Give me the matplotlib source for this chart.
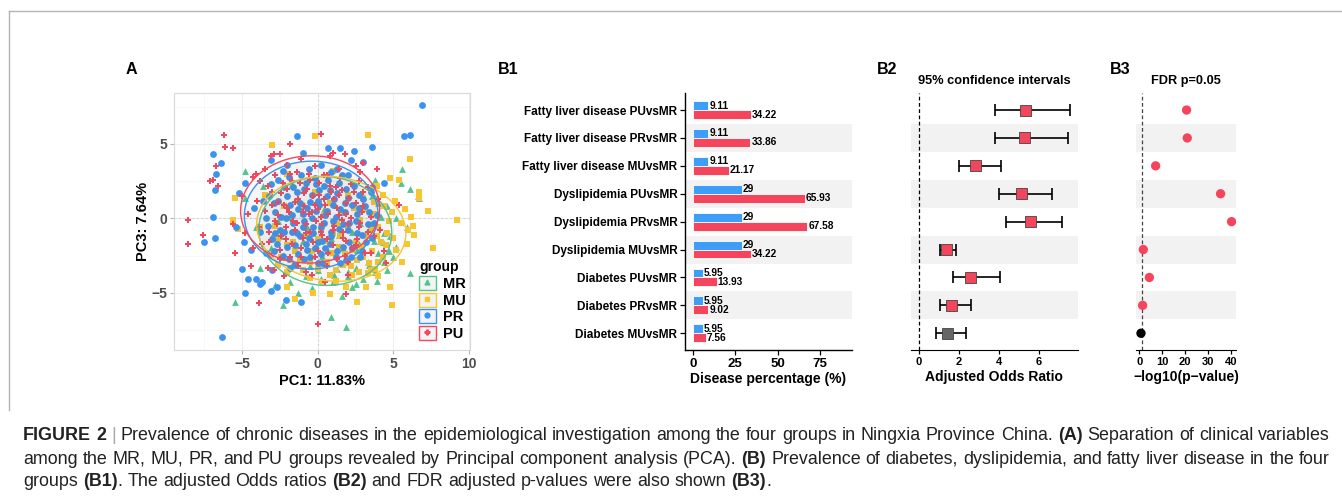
import numpy as np
import matplotlib
matplotlib.use('Agg')
import matplotlib.pyplot as plt
from matplotlib.patches import Ellipse, Patch
from matplotlib.lines import Line2D
from matplotlib.legend_handler import HandlerTuple

plt.rcParams['font.family'] = ['Liberation Sans', 'DejaVu Sans']

# ---------------- data: PCA (A) ----------------
groups = ['MR', 'MU', 'PR', 'PU']
group_colors = {'MR': '#52C48E', 'MU': '#F7C631', 'PR': '#3A93F2', 'PU': '#F2475E'}
group_markers = {'MR': '^', 'MU': 's', 'PR': 'o', 'PU': 'P'}

mr_pc1 = [6.1, 5.6, 5.5, 6.1, 6.6, 6.7, 1.9, 0.9, -5.5, -2.3, -1.3, -0.4, 2.5, 3.0, 4.6, -4.8, -1.7, -3.8,
          -3.1, 5.0, 4.3, 3.4, 1.0, -1.8, -2.8, -4.1, 4.6, 5.2, 3.8, -3.6, -0.8, 2.0, -4.8, 1.6, 4.8, 5.9,
          -2.5, -1.9, -1.3, -0.7, -0.1, 0.5, 1.1, 1.7, 2.3, 2.9, 3.5, 4.0, 3.1, 2.5, 1.3, 0.3, -0.5, -1.6,
          -2.3, 3.7, 2.1, 0.9, 4.2, 1.9, -0.9, 2.7, 3.3, 4.4]
mr_pc3 = [-3.7, 3.3, 2.4, 2.0, 1.5, 1.4, -7.3, -6.6, -5.6, -5.8, -5.0, -4.7, -4.4, -4.1, -3.5, 3.2, 2.3, -3.3,
          -2.0, -2.6, -1.6, -3.1, -4.3, -4.3, -4.5, -0.6, 0.8, 0.0, 2.6, 2.2, -3.9, -3.6, 1.4, -5.2, -1.2, -0.6,
          -1.2, 0.1, -2.3, -0.6, -1.8, -3.0, -0.2, -2.0, -0.9, -2.5, -0.4, -2.3, 0.7, -3.3, -3.4, -2.5, -3.2, -3.0,
          -2.6, -1.5, 1.6, -1.3, 0.1, -2.8, 0.9, -1.7, -2.9, -2.9]
mr_core = [(0.7, -2.2), (1.4, -1.1), (2.0, -3.9), (2.6, -2.1), (3.2, -1.0), (3.8, -3.6), (4.4, -1.0),
           (1.1, -3.8), (0.0, -3.5), (-1.0, -1.5), (-2.0, -3.4), (-3.0, -1.2), (1.7, 0.4), (2.8, -0.3),
           (3.6, 1.5), (4.7, -2.2), (0.2, -4.1), (-0.6, -2.5), (2.3, -4.6), (3.9, -4.2), (-2.6, -0.2),
           (5.2, -1.9), (4.0, 1.0), (0.4, 0.6)]

mu_pc1 = [9.2, 7.6, 7.3, 6.7, 6.7, 6.1, 3.3, -0.2, -3.0, -5.5, -5.3, -2.0, -1.5, -0.3, 0.8, 2.6, 4.8, 4.9,
          6.3, 6.0, 6.2, 5.8, 5.2, 4.8, 5.4, 5.5, 5.1, 4.6, 4.3, 3.5, 2.3, 1.2, -0.5, -1.8, -3.2, -3.8, -3.5,
          -2.0, 1.0, 3.9, 5.9, 5.6, 6.4, -5.6, -2.6, 1.9, 4.0, 3.2,
          -2.8, -2.2, -1.6, -1.0, -0.4, 0.2, 0.8, 1.4, 2.0, 2.6, 3.2, 3.8, 4.2, 3.0, 2.2, 1.6, 0.6, -0.2,
          -1.2, -2.0, 3.6, 2.8, 1.0, 4.4, 0.0, -0.8, 1.8, 2.4, 3.4, 4.0, -1.4, 0.4, 2.9, 1.2, 3.7, -2.4]
mu_pc3 = [-0.1, -2.0, 0.5, 1.8, 1.4, 4.0, 5.6, 5.5, 4.9, 1.4, -0.7, -4.6, -5.4, -5.0, -5.1, -5.6, -4.6, -5.8,
          -0.5, -0.8, 0.1, 0.6, -2.1, 2.7, 2.6, -0.3, 1.2, -1.0, -2.6, -3.5, -3.8, -4.2, -4.0, -3.4, -2.4, -0.6, 1.6,
          3.0, 3.2, 2.2, -1.7, -2.9, -1.1, -0.1, -3.1, -4.6, -3.9, -4.6,
          -0.5, 0.8, -1.6, 0.3, -2.2, -0.8, 1.0, -1.9, -0.5, -2.8, -1.2, 0.3, -1.6, 1.4, -3.2, 0.4, -2.9, 1.8,
          -2.8, -1.8, -2.2, -0.1, -1.0, 0.8, -3.4, -1.2, -2.4, 0.7, -3.0, -0.6, 1.2, 0.2, -1.9, -3.5, 1.1, -2.6]
mu_core = [(0.5, -1.5), (1.0, -2.3), (1.5, -1.2), (2.0, -3.0), (2.5, -1.6), (3.0, -2.6), (3.5, -0.8),
           (4.0, -2.9), (4.5, -1.8), (3.3, -3.7), (2.7, -3.6), (1.7, -3.1), (0.8, -3.8), (-0.5, -2.9),
           (-1.5, -2.2), (-2.6, -1.4), (3.9, -1.2), (4.7, -0.2), (2.3, -2.1), (1.3, -0.4), (0.0, -1.4),
           (-1.0, -3.5), (4.3, 1.6), (3.1, 0.6), (2.0, 1.6), (5.0, -1.3), (0.3, -4.3), (-2.0, -3.6),
           (3.8, -3.4), (4.9, 0.4)]

pr_pc1 = [6.9, 5.7, 6.1, -1.4, -6.3, -6.9, -6.4, -6.7, -6.8, -6.9, -6.8, -7.5, -4.6, -4.8, -3.8, -3.7, -3.1,
          -1.1, -2.1, 3.6, 2.4, 1.5, 0.7, 4.4, -5.4, -4.9, -5.2, -4.1, -5.0, -4.4, -3.0, -2.7, -1.8, -2.0, -3.1,
          -4.8, -4.2, -1.0, 0.2, 1.3, 2.2, 3.0, 3.6, 3.9, 3.6, 2.8, 1.5, 0.0, -0.9,
          -3.2, -2.8, -2.5, -2.2, -2.0, -1.8, -1.6, -1.4, -1.2, -1.0, -0.8, -0.7, -0.5, -0.3, -0.1, 0.1, 0.3,
          0.5, 0.7, 0.9, 1.1, 1.3, 1.5, 1.7, 1.9, 2.1, 2.3, 2.5, 2.7, 2.9, -3.0, -2.6, -2.3, -1.9, -1.5, -1.1,
          -0.6, -0.2, 0.2, 0.6, 1.0, 1.4, 1.8, 2.2, 2.6, 3.1, -3.4, -2.9, -0.4, 0.4, -1.3, 1.2, -2.1, 0.0,
          -0.9, 2.0, -1.7, 0.8, -0.2, 3.3]
pr_pc3 = [7.6, 5.5, 5.6, 5.5, -8.0, 4.3, 3.7, 3.0, 1.9, 0.1, -1.3, -1.6, -4.1, -5.0, -4.4, -4.3, -4.9,
          -5.6, -5.5, 4.8, 4.5, 4.7, 4.7, 2.4, -0.6, -1.6, 1.7, -4.1, -3.4, -2.1, -3.5, -4.6, -3.3, 3.6, 3.9,
          2.4, 0.7, 4.4, 3.6, 3.3, 3.9, 3.8, 2.1, 0.2, -1.3, -2.6, -3.0, -3.0, -2.7,
          1.5, 0.4, -0.8, 2.1, -1.9, 0.9, -0.3, 1.8, -1.2, 0.3, 2.4, -2.1, 1.1, -0.6, 0.5, 1.9, -1.5,
          0.2, 2.6, -0.9, 1.3, -2.2, 0.6, -0.4, 2.0, -1.6, 0.9, -0.2, 1.6, -1.1, -1.4, 1.2, -2.5, 2.8, -1.8, 2.9,
          -1.3, 2.7, -2.4, 1.5, -0.2, 2.4, 1.0, -2.6, 0.3, 0.8, 0.0, -2.2, 0.0, -0.3, 0.6, 0.1, 0.0, 1.2,
          -0.2, -0.8, -0.9, -1.7, -2.0, -0.4]
pr_core = [(-3.3, -0.5), (-3.1, 2.3), (-2.9, 1.0), (-2.7, -1.7), (-2.6, 2.6), (-2.4, 0.1), (-2.2, -0.9),
           (-2.0, 1.5), (-1.9, -2.7), (-1.7, 0.2), (-1.6, 2.1), (-1.4, -1.0), (-1.3, -2.4), (-1.2, 1.0),
           (-1.0, -0.6), (-0.9, 2.0), (-0.8, -1.7), (-0.7, 0.7), (-0.5, -2.6), (-0.4, 1.6), (-0.3, -1.0),
           (-0.1, 2.3), (0.0, -1.6), (0.1, 0.9), (0.2, -0.6), (0.4, 2.2), (0.5, -2.0), (0.6, 0.5), (0.8, 1.9),
           (0.9, -1.2), (1.0, 0.9), (1.2, -2.6), (1.3, 1.7), (1.4, -0.7), (1.6, 2.9), (1.7, -1.9), (1.8, 0.4),
           (2.0, 1.4), (2.1, -0.3), (2.3, -2.0), (2.4, 2.2), (2.6, -1.0), (2.7, 0.7), (2.9, -2.2), (3.0, 1.3),
           (3.2, -1.6), (3.4, 0.4), (3.5, 1.8), (-3.6, 1.2), (-3.8, -0.9), (-2.3, 3.2), (-0.6, 3.3), (0.9, 3.1),
           (2.0, 2.9), (-1.5, -3.1), (0.3, -3.0), (1.9, -2.8), (-3.4, -2.3), (3.7, -0.3), (-2.8, -1.0)]

pu_pc1 = [-8.6, -8.6, -7.6, -6.2, -6.1, -5.6, -7.1, -6.9, -6.7, -6.6, -5.5, -5.6, -3.9, 0.2, 0.0, 0.5, 2.0,
          -4.4, 1.9, 4.4, 4.5, 5.4, 3.9, 3.0, 1.0, -2.9, -3.5, -4.3, -5.0, -4.8, -4.3, -3.3, -2.2, -0.8, -1.8,
          -4.1, -2.5, -1.1, 0.8, 1.8, 2.5, 4.0, 4.1, 3.5, -0.4, -2.9, -4.6, -3.7, -3.1,
          -3.3, -3.0, -2.7, -2.4, -2.1, -1.9, -1.7, -1.5, -1.3, -1.1, -0.9, -0.7, -0.5, -0.3, -0.1, 0.1, 0.3,
          0.5, 0.7, 0.9, 1.1, 1.3, 1.5, 1.7, 1.9, 2.1, 2.3, 2.5, 2.7, 2.9, -3.2, -2.8, -2.5, -2.2, -1.8, -1.4,
          -1.0, -0.6, -0.2, 0.2, 0.6, 1.0, 1.4, 1.8, 2.2, 2.6, 3.0, 3.3, -2.0, -0.8, 0.4, 1.6, -1.6, 0.0,
          -2.6, 2.0, -0.4, 1.2]
pu_pc3 = [-0.1, -1.7, -1.1, 5.6, 4.8, 4.7, 2.5, 2.6, 3.5, 2.2, -2.3, -0.4, -5.7, 5.7, -7.1, -4.3, -3.8,
          -3.2, -5.1, -2.2, -3.0, 0.9, 3.3, 3.7, 4.4, 4.3, 3.3, 2.8, 1.5, -1.0, -2.0, -3.3, -3.9, -3.6, 5.0,
          3.0, 4.3, 4.0, 4.2, 4.3, 3.5, 1.3, -0.8, -2.3, -3.8, -3.5, 0.3, -1.7, 4.2,
          2.2, 0.9, -0.4, 1.7, -1.4, 0.4, 2.5, -0.8, 1.3, -2.0, 0.8, 2.0, -0.9, 1.5, -0.2, 2.4, -1.1,
          0.9, -2.3, 1.8, -0.5, 0.7, 2.7, -1.3, 0.3, 1.4, -2.0, 1.0, -0.6, 0.4, -0.9, 2.9, -2.1, 0.9, -2.6, 3.1,
          -1.3, 3.0, -2.6, 0.1, 2.9, -1.8, 1.6, -2.5, 2.3, -1.4, 1.8, -0.9, 2.0, -0.4, 1.3, -0.1, -0.2, 0.6,
          0.2, -0.4, 0.4, 2.1]
pu_core = [(-3.5, 0.5), (-3.2, -1.6), (-3.0, 1.8), (-2.8, -0.2), (-2.6, 1.1), (-2.5, -2.7), (-2.3, 2.4),
           (-2.1, -0.6), (-2.0, 0.7), (-1.8, 3.0), (-1.7, -1.7), (-1.5, 1.1), (-1.4, -0.3), (-1.2, 2.4),
           (-1.1, -2.6), (-0.9, 1.7), (-0.8, -1.0), (-0.6, 0.3), (-0.5, 2.6), (-0.3, -1.6), (-0.2, 0.9),
           (0.0, -2.2), (0.1, 1.6), (0.3, -0.4), (0.4, 2.9), (0.6, -1.4), (0.7, 0.3), (0.8, 2.2), (1.0, -0.8),
           (1.1, 1.3), (1.3, -2.7), (1.4, 0.2), (1.6, 1.9), (1.7, -0.9), (1.9, 1.0), (2.0, -2.9), (2.2, 0.0),
           (2.4, 1.8), (2.5, -1.8), (2.7, 2.5), (2.8, -0.3), (3.0, 0.8), (3.1, -2.3), (3.3, 2.1), (3.5, 0.1),
           (-3.8, 2.5), (-3.9, -0.6), (-4.0, 1.2), (-2.0, 3.6), (-0.2, 3.5), (1.4, 3.3), (2.8, 3.1),
           (-3.1, -2.5), (-1.3, -3.2), (0.6, -3.2), (1.9, -1.5), (-1.0, 0.4), (0.2, -0.9), (3.7, -1.2),
           (-2.4, -1.2)]

pca_x = {'MR': mr_pc1 + [p[0] for p in mr_core], 'MU': mu_pc1 + [p[0] for p in mu_core],
         'PR': pr_pc1 + [p[0] for p in pr_core], 'PU': pu_pc1 + [p[0] for p in pu_core]}
pca_y = {'MR': mr_pc3 + [p[1] for p in mr_core], 'MU': mu_pc3 + [p[1] for p in mu_core],
         'PR': pr_pc3 + [p[1] for p in pr_core], 'PU': pu_pc3 + [p[1] for p in pu_core]}

# 95% ellipse summaries: centre, half-widths, tilt
ell_cx = {'MR': 0.5, 'MU': 0.9, 'PR': -0.43, 'PU': -0.5}
ell_cy = {'MR': -0.85, 'MU': -0.7, 'PR': 0.22, 'PU': 0.6}
ell_rx = {'MR': 4.4, 'MU': 4.95, 'PR': 4.42, 'PU': 4.6}
ell_ry = {'MR': 3.65, 'MU': 3.5, 'PR': 3.62, 'PU': 3.6}
ell_ang = {'MR': -4, 'MU': -7, 'PR': 2, 'PU': 3}

# ---------------- data: B1 / B2 / B3 ----------------
comparisons = ['Fatty liver disease PUvsMR', 'Fatty liver disease PRvsMR', 'Fatty liver disease MUvsMR',
               'Dyslipidemia PUvsMR', 'Dyslipidemia PRvsMR', 'Dyslipidemia MUvsMR',
               'Diabetes PUvsMR', 'Diabetes PRvsMR', 'Diabetes MUvsMR']
pct_mr = [9.11, 9.11, 9.11, 29, 29, 29, 5.95, 5.95, 5.95]
pct_other = [34.22, 33.86, 21.17, 65.93, 67.58, 34.22, 13.93, 9.02, 7.56]

odds = [5.33, 5.27, 2.83, 5.13, 5.58, 1.38, 2.58, 1.65, 1.43]
ci_low = [3.83, 3.83, 2.0, 4.0, 4.37, 1.08, 1.7, 1.08, 0.88]
ci_high = [7.57, 7.48, 4.13, 6.65, 7.17, 1.85, 4.05, 2.62, 2.37]

neglog_p = [20.7, 21.0, 7.15, 35.6, 40.4, 1.75, 4.4, 1.45, 0.73]
fdr_cut = -np.log10(0.05)

W, H = 1342, 500


def box(x0, y0, x1, y1):
    return [x0 / W, 1 - y1 / H, (x1 - x0) / W, (y1 - y0) / H]


fig = plt.figure(figsize=(W / 100, H / 100), dpi=100)
fig.patch.set_facecolor('white')

# ---------------- A: PCA ----------------
ax = fig.add_axes(box(174, 93.3, 470, 350))
ax.set_xlim(-9.5, 10.07)
ax.set_ylim(-8.84, 8.4)
ax.set_xticks([-5, 0, 5, 10])
ax.set_yticks([-5, 0, 5])
ax.set_xticks([-7.5, -2.5, 2.5, 7.5], minor=True)
ax.set_yticks([-7.5, -2.5, 2.5, 7.5], minor=True)
ax.grid(True, which='major', color='#EDEDED', lw=0.6)
ax.grid(True, which='minor', color='#F6F6F6', lw=0.5)
ax.set_axisbelow(True)
for s in ax.spines.values():
    s.set_color('#D9D9D9')
    s.set_linewidth(0.8)
ax.tick_params(which='major', length=3, color='#B3B3B3', labelsize=10, labelcolor='#4D4D4D', pad=2)
ax.tick_params(which='minor', length=0)
for lab in ax.get_xticklabels() + ax.get_yticklabels():
    lab.set_fontweight('bold')
ax.axvline(0, color='#D5D5D5', lw=0.8, ls=(0, (2, 2)), zorder=1)
ax.axhline(0, color='#D5D5D5', lw=0.8, ls=(0, (2, 2)), zorder=1)

msize = {'MR': 24, 'MU': 19, 'PR': 24, 'PU': 22}
for g in groups:
    ax.scatter(pca_x[g], pca_y[g], s=msize[g], marker=group_markers[g], color=group_colors[g],
               linewidths=0, zorder=3)
for g in groups:
    ax.add_patch(Ellipse((ell_cx[g], ell_cy[g]), 2 * ell_rx[g], 2 * ell_ry[g], angle=ell_ang[g],
                         facecolor=(0.5, 0.5, 0.5, 0.04), edgecolor=group_colors[g], lw=1.0, zorder=4))
ax.set_xlabel('PC1: 11.83%', fontsize=10.5, fontweight='bold', labelpad=2)
ax.set_ylabel('PC3: 7.64%', fontsize=10.5, fontweight='bold', labelpad=1)

handles = []
for g in groups:
    handles.append((Patch(facecolor='#F3F3F3', edgecolor=group_colors[g], lw=1.0),
                    Line2D([], [], ls='none', marker=group_markers[g], color=group_colors[g], markersize=3.5)))
leg = ax.legend(handles, groups, title='group', loc='lower right', bbox_to_anchor=(0.985, 0.035),
                frameon=False, handler_map={tuple: HandlerTuple(ndivide=1, pad=0)},
                handlelength=1.1, handleheight=1.1, handletextpad=0.5, labelspacing=0.12,
                borderaxespad=0.0, borderpad=0.0, alignment='left',
                prop={'weight': 'bold', 'size': 10.5}, title_fontproperties={'weight': 'bold', 'size': 10})
leg.set_zorder(6)

# ---------------- B1: bars ----------------
n = len(comparisons)
rows = np.arange(n, 0, -1)
blue, red = '#3D9EF7', '#F5455C'

ax1 = fig.add_axes(box(685, 93.3, 852, 350))
for i in range(n):
    if i % 2 == 1:
        ax1.axhspan(rows[i] - 0.5, rows[i] + 0.5, color='#F2F2F2', lw=0, zorder=0)
ax1.barh(rows + 0.16, pct_mr, height=0.32, color=blue, edgecolor='white', lw=0.6, zorder=2)
ax1.barh(rows - 0.16, pct_other, height=0.32, color=red, edgecolor='white', lw=0.6, zorder=2)
for i in range(n):
    ax1.text(pct_mr[i] + 0.6, rows[i] + 0.16, f'{pct_mr[i]:g}', va='center', ha='left',
             fontsize=7.3, fontweight='bold', zorder=3)
    ax1.text(pct_other[i] + 0.6, rows[i] - 0.16, f'{pct_other[i]:g}', va='center', ha='left',
             fontsize=7.3, fontweight='bold', zorder=3)
ax1.set_xlim(-4.7, 93.9)
ax1.set_ylim(0.4, 9.6)
ax1.set_yticks(rows)
ax1.set_yticklabels(comparisons, fontsize=8.5, fontweight='bold')
ax1.set_xticks([0, 25, 50, 75])
ax1.tick_params(axis='x', labelsize=9.5, length=3.5, width=0.9, pad=2)
ax1.tick_params(axis='y', length=3.5, width=0.9, pad=2)
for lab in ax1.get_xticklabels():
    lab.set_fontweight('bold')
ax1.spines['top'].set_visible(False)
ax1.spines['right'].set_visible(False)
ax1.spines['left'].set_linewidth(1.0)
ax1.spines['bottom'].set_linewidth(1.0)
ax1.set_xlabel('Disease percentage (%)', fontsize=10, fontweight='bold', labelpad=2)

# ---------------- B2: odds ratios ----------------
ax2 = fig.add_axes(box(911, 93.3, 1077.7, 350))
for i in range(n):
    if i % 2 == 1:
        ax2.axhspan(rows[i] - 0.5, rows[i] + 0.5, color='#F2F2F2', lw=0, zorder=0)
ax2.axvline(0, color='black', lw=0.9, ls=(0, (3, 2)), zorder=1)
odds_a = np.array(odds)
xerr = [odds_a - np.array(ci_low), np.array(ci_high) - odds_a]
ax2.errorbar(odds, rows, xerr=xerr, fmt='none', ecolor='black', elinewidth=1.2, capsize=4, capthick=1.2, zorder=2)
or_cols = [red if lo > 1 else '#666666' for lo in ci_low]
ax2.scatter(odds, rows, s=62, marker='s', c=or_cols, edgecolors='#444444', linewidths=0.6, zorder=3)
ax2.set_xlim(-0.385, 7.95)
ax2.set_ylim(0.4, 9.6)
ax2.set_xticks([0, 2, 4, 6])
ax2.set_yticks([])
ax2.tick_params(axis='x', labelsize=8, length=3, width=0.9, pad=2)
for lab in ax2.get_xticklabels():
    lab.set_fontweight('bold')
for s in ['top', 'right', 'left']:
    ax2.spines[s].set_visible(False)
ax2.set_xlabel('Adjusted Odds Ratio', fontsize=10, fontweight='bold', labelpad=2)

# ---------------- B3: FDR ----------------
ax3 = fig.add_axes(box(1136, 93.3, 1236, 350))
for i in range(n):
    if i % 2 == 1:
        ax3.axhspan(rows[i] - 0.5, rows[i] + 0.5, color='#F2F2F2', lw=0, zorder=0)
ax3.axvline(fdr_cut, color='#444444', lw=0.9, ls=(0, (3, 2)), zorder=1)
p_cols = [red if v > fdr_cut else 'black' for v in neglog_p]
ax3.scatter(neglog_p, rows, s=45, c=p_cols, linewidths=0, zorder=3)
ax3.set_xlim(-1.45, 42.35)
ax3.set_ylim(0.4, 9.6)
ax3.set_xticks([0, 10, 20, 30, 40])
ax3.set_yticks([])
ax3.tick_params(axis='x', labelsize=8, length=3, width=0.9, pad=2)
for lab in ax3.get_xticklabels():
    lab.set_fontweight('bold')
for s in ['top', 'right', 'left']:
    ax3.spines[s].set_visible(False)
ax3.set_xlabel('\u2212log10(p\u2212value)', fontsize=10, fontweight='bold', labelpad=2)

# ---------------- panel letters and titles ----------------
for lbl, px in [('A', 126), ('B1', 498), ('B2', 877), ('B3', 1110)]:
    fig.text(px / W, 1 - 74 / H, lbl, fontsize=11.5, fontweight='bold', ha='left', va='baseline')
fig.text(994 / W, 1 - 81 / H, '95% confidence intervals', fontsize=9.2, fontweight='bold', ha='center', va='center')
fig.text(1186 / W, 1 - 81 / H, 'FDR p=0.05', fontsize=9.2, fontweight='bold', ha='center', va='center')

# ---------------- frame ----------------
fig.add_artist(Line2D([9 / W, 1], [1 - 11 / H, 1 - 11 / H], transform=fig.transFigure, color='#B3B3B3', lw=1.0))
fig.add_artist(Line2D([9 / W, 9 / W], [1 - 11 / H, 1 - 410 / H], transform=fig.transFigure, color='#B3B3B3', lw=1.0))

# ---------------- caption ----------------
caption_lines = [
    ('**FIGURE 2** | Prevalence of chronic diseases in the epidemiological investigation among the four groups '
     'in Ningxia Province China. **(A)** Separation of clinical variables', True),
    ('among the MR, MU, PR, and PU groups revealed by Principal component analysis (PCA). **(B)** Prevalence of '
     'diabetes, dyslipidemia, and fatty liver disease in the four', True),
    ('groups **(B1)**. The adjusted Odds ratios **(B2)** and FDR adjusted p-values were also shown **(B3)**.', False),
]
renderer = fig.canvas.get_renderer()
x_left, x_right = 23, 1330
line_y = [436, 459, 481]


def word_runs(line):
    # split a line into words, each word a list of (text, bold) runs
    words, bold = [], False
    for w in line.split(' '):
        parts = w.split('**')
        runs = []
        for k, p in enumerate(parts):
            if k > 0:
                bold = not bold
            if p:
                runs.append((p, bold))
        words.append(runs)
    return words


def run_width(txt, bold, size):
    t = fig.text(0, 0, txt, fontsize=size, fontweight='bold' if bold else 'normal')
    w = t.get_window_extent(renderer).width
    t.remove()
    return w


def natural_width(line, size):
    words = word_runs(line)
    sp = run_width('a a', False, size) - run_width('aa', False, size)
    return sum(run_width(t, b, size) for wr in words for t, b in wr) + sp * (len(words) - 1)


# fit the first (justified) line to the text block width
cap_size = 10 * (x_right - x_left) / natural_width(caption_lines[0][0], 10)
space_w = run_width('a a', False, cap_size) - run_width('aa', False, cap_size)
for (line, justify), yy in zip(caption_lines, line_y):
    words = word_runs(line)
    widths = [sum(run_width(t, b, cap_size) for t, b in wr) for wr in words]
    gap = space_w
    if justify:
        gap = (x_right - x_left - sum(widths)) / (len(words) - 1)
    x = x_left
    for wr, ww in zip(words, widths):
        xx = x
        for t, b in wr:
            col = '#AAAAAA' if t == '|' else '#222222'
            fig.text(xx / W, 1 - yy / H, t, fontsize=cap_size, fontweight='bold' if b else 'normal',
                     color=col, va='center', ha='left')
            xx += run_width(t, b, cap_size)
        x += ww + gap

fig.savefig('out.png', dpi=100)
